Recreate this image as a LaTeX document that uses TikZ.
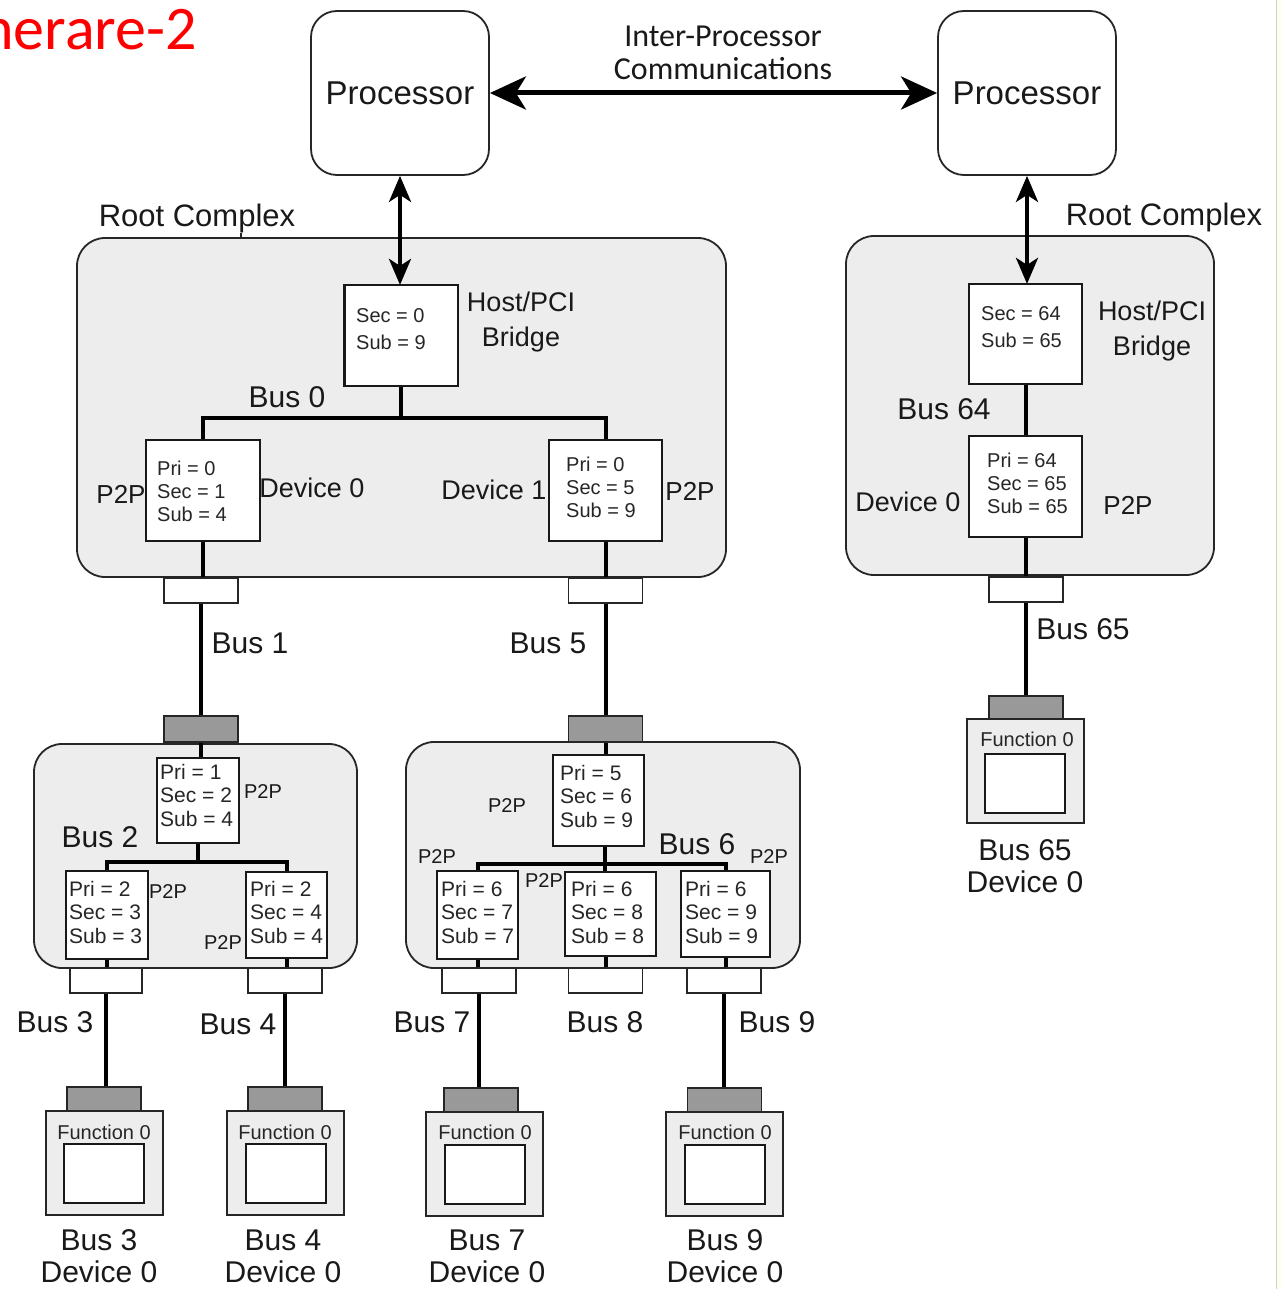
\documentclass[tikz,border=0pt]{standalone}
\usepackage{fontspec}
\setmainfont{Liberation Sans}
\newfontfamily\titlefont{Carlito}
\usetikzlibrary{arrows.meta}
\newcommand\fsz[2]{\fontsize{#1}{#2}\selectfont}

\begin{document}
\begin{tikzpicture}[x=1pt, y=-1pt,
  frame/.style={draw=black!85, line width=1.8pt},
  proc/.style={frame, rounded corners=26pt, fill=white, minimum width=178pt, minimum height=164pt,
    inner sep=0pt, text=black!90, font=\fsz{33}{38}},
  cplx/.style={frame, rounded corners=28pt, fill=black!7, inner sep=0pt},
  reg/.style={draw=black!90, line width=2.2pt, fill=white, inner sep=0pt},
  regtxt/.style={inner sep=0pt, align=left, anchor=west, text=black!85, font=\fsz{20}{23}},
  hbtxt/.style={regtxt, font=\fsz{20}{27}},
  regtxtb/.style={regtxt, font=\fsz{21}{23.5}},
  socket/.style={draw=black!85, line width=1.6pt, fill=white, minimum width=74pt, minimum height=25pt, inner sep=0pt},
  slot/.style={draw=black!85, line width=1.6pt, fill=black!40, minimum width=74pt, minimum height=25pt, inner sep=0pt},
  card/.style={draw=black!85, line width=2pt, fill=black!7, minimum width=117pt, minimum height=104pt, inner sep=0pt},
  cardin/.style={draw=black!90, line width=2pt, fill=white, minimum width=80pt, minimum height=59pt, inner sep=0pt},
  fn/.style={inner sep=0pt, text=black!85, font=\fsz{20}{22}},
  bus/.style={line width=4pt, draw=black},
  lbl/.style={inner sep=0pt, text=black!90, font=\fsz{28}{33}},
  buslbl/.style={inner sep=0pt, text=black!90, font=\fsz{30}{33}},
  small/.style={inner sep=0pt, text=black!90, font=\fsz{20}{22}},
  devlbl/.style={inner sep=0pt, align=center, text=black!90, font=\fsz{30}{32}},
  ipc/.style={{Stealth[length=36pt, width=33pt, inset=10pt]}-{Stealth[length=36pt, width=33pt, inset=10pt]}, line width=5pt},
  vlink/.style={{Stealth[length=26pt, width=22pt, inset=7pt]}-{Stealth[length=26pt, width=22pt, inset=7pt]}, line width=4pt},
]
\useasboundingbox (0,0) rectangle (1281,1289);
\fill[white] (0,0) rectangle (1281,1289);
\fill[yellow!8] (1276,0) rectangle (1281,1289);
\draw[black!18, line width=1pt] (1276.5,0) -- (1276.5,1289);

% heading
\node[inner sep=0pt, anchor=base east, text=red, font=\titlefont\fsz{62}{66}] (title) at (197,50) {nerare-2};

% processors
\node[proc] (cpu0) at (400,93) {Processor};
\node[proc] (cpu1) at (1027,93) {Processor};
\node[inner sep=0pt, align=center, text=black!90, font=\titlefont\fsz{32}{33}] (ipcl) at (723,53) {Inter-Processor\\Communications};

% root complexes and switches
\node[cplx, minimum width=649pt, minimum height=339pt] (rc0) at (401.5,407.5) {};
\node[cplx, minimum width=368pt, minimum height=339pt] (rc1) at (1030,405.5) {};
\node[cplx, minimum width=323pt, minimum height=224pt] (sw2) at (195.5,856) {};
\node[cplx, minimum width=394pt, minimum height=226pt] (sw6) at (603,855) {};

\node[lbl, font=\fsz{31}{34}] (rcl0) at (197,218) {Root Complex};
\node[lbl, font=\fsz{31}{34}] (rcl1) at (1164,217) {Root Complex};
\coordinate (tick) at (241,238);
\draw[frame] (tick |- rcl0.south) -- (tick);

% sockets (open) and slots (filled)
\node[socket] (s1) at (201,590.5) {};
\node[socket] (s5) at (605.5,590.5) {};
\node[socket] (s65) at (1026,589.5) {};
\node[socket, minimum width=72pt] (s3) at (106,980.5) {};
\node[socket] (s4) at (285,980.5) {};
\node[socket] (s7) at (479,980.5) {};
\node[socket] (s8) at (605.5,980.5) {};
\node[socket] (s9) at (724,980.5) {};

\node[slot, minimum height=26pt] (g2) at (201,729) {};
\node[slot, minimum height=26pt] (g6) at (605.5,729) {};
\node[slot, minimum height=26pt] (g65) at (1026,709) {};

% endpoint cards
\node[card] (c3) at (104,1162.5) {};
\node[card] (c4) at (285,1162.5) {};
\node[card] (c7) at (484.5,1163.5) {};
\node[card] (c9) at (724,1163.5) {};
\node[card] (c65) at (1025,770.5) {};
\node[slot, minimum height=24pt] (g3) at (104,1099) {};
\node[slot, minimum height=24pt] (g4) at (285,1099) {};
\node[slot, minimum height=24pt] (g7) at (481,1100) {};
\node[slot, minimum height=24pt] (g9) at (724.5,1100) {};
\node[cardin] (i3) at (104,1173.5) {};
\node[cardin] (i4) at (285.5,1173.5) {};
\node[cardin] (i7) at (484.5,1174) {};
\node[cardin] (i9) at (724.5,1174.5) {};
\node[cardin] (i65) at (1025,783.5) {};
\node[fn] (f3) at (104,1132) {Function 0};
\node[fn] (f4) at (285,1132) {Function 0};
\node[fn] (f7) at (485,1132) {Function 0};
\node[fn] (f9) at (725,1132) {Function 0};
\node[fn] (f65) at (1027,739) {Function 0};

% bridge register boxes
\node[reg, minimum width=111pt, minimum height=99pt] (hb0) at (401,335.5) {};
\node[reg, minimum width=112pt, minimum height=99pt] (p0) at (203,490.5) {};
\node[reg, minimum width=111pt, minimum height=99pt] (p1) at (605.5,490.5) {};
\node[reg, minimum width=111pt, minimum height=98pt] (hb1) at (1025.5,334) {};
\node[reg, minimum width=111pt, minimum height=99pt] (p64) at (1025.5,486.5) {};
\node[reg, minimum width=80pt, minimum height=83pt] (p2) at (198,800.5) {};
\node[reg, minimum width=80pt, minimum height=86pt] (p3) at (107,915) {};
\node[reg, minimum width=79pt, minimum height=84pt] (p4) at (286.5,915) {};
\node[reg, minimum width=89pt, minimum height=89pt] (p6) at (598.5,800.5) {};
\node[reg, minimum width=79pt, minimum height=86pt] (p7) at (477.5,915) {};
\node[reg, minimum width=89pt, minimum height=82pt] (p8) at (610.5,914) {};
\node[reg, minimum width=87pt, minimum height=84pt] (p9) at (725.5,914) {};

% links between processors and host bridges
\draw[ipc] (cpu0.east) -- (cpu1.west);
\draw[vlink] (cpu0.south) -- (cpu0.south |- hb0.north);
\draw[vlink] (cpu1.south) -- (cpu1.south |- hb1.north);

% bus 0
\coordinate (b0) at (401,418);
\draw[bus] (hb0.south) -- (b0);
\draw[bus] (p0.north) -- (p0.north |- b0) -- (p1.north |- b0) -- (p1.north);
% bus 1 and bus 5
\draw[bus] (p0.south) -- (p0.south |- s1.north);
\draw[bus] (s1.south) -- (g2.north);
\draw[bus] (p1.south) -- (p1.south |- s5.north);
\draw[bus] (s5.south) -- (g6.north);
% bus 64 and bus 65
\draw[bus] (hb1.south) -- (p64.north);
\draw[bus] (p64.south) -- (p64.south |- s65.north);
\draw[bus] (s65.south) -- (g65.north);
% bus 2
\coordinate (b2) at (198,862);
\draw[bus] (g2.south) -- (g2.south |- p2.north);
\draw[bus] (p2.south) -- (b2);
\draw[bus] (p3.north) -- (p3.north |- b2) -- (p4.north |- b2) -- (p4.north);
% bus 3 and bus 4
\draw[bus] (p3.south) -- (p3.south |- s3.north);
\draw[bus] (s3.south) -- (s3.south |- g3.north);
\draw[bus] (p4.south) -- (p4.south |- s4.north);
\draw[bus] (s4.south) -- (g4.north);
% bus 6
\coordinate (b6) at (605,864);
\draw[bus] (g6.south) -- (g6.south |- p6.north);
\draw[bus] (b6 |- p6.south) -- (b6);
\draw[bus] (p7.north) -- (p7.north |- b6) -- (p9.north |- b6) -- (p9.north);
\draw[bus] (b6) -- (b6 |- p8.north);
% bus 7, 8 and 9
\draw[bus] (p7.south) -- (p7.south |- s7.north);
\draw[bus] (s7.south) -- (s7.south |- g7.north);
\draw[bus] (s8.north) -- (s8.north |- p8.south);
\draw[bus] (p9.south) -- (p9.south |- s9.north);
\draw[bus] (s9.south) -- (s9.south |- g9.north);

% redraw register boxes over the bus ends
\foreach \r in {hb0,p0,p1,hb1,p64,p2,p3,p4,p6,p7,p8,p9}{
  \draw[draw=black!90, line width=2.2pt, fill=white] (\r.north west) rectangle (\r.south east);
}

% register contents
\node[hbtxt] (t-hb0) at (356,329.5) {Sec = 0\\Sub = 9};
\node[regtxt] (t-p0) at (157,491) {Pri = 0\\Sec = 1\\Sub = 4};
\node[regtxt] (t-p1) at (566,487) {Pri = 0\\Sec = 5\\Sub = 9};
\node[hbtxt] (t-hb1) at (981,327.5) {Sec = 64\\Sub = 65};
\node[regtxt] (t-p64) at (987,483) {Pri = 64\\Sec = 65\\Sub = 65};
\node[regtxtb] (t-p2) at (160,795) {Pri = 1\\Sec = 2\\Sub = 4};
\node[regtxtb] (t-p3) at (69,912) {Pri = 2\\Sec = 3\\Sub = 3};
\node[regtxtb] (t-p4) at (250,912) {Pri = 2\\Sec = 4\\Sub = 4};
\node[regtxtb] (t-p6) at (560,796) {Pri = 5\\Sec = 6\\Sub = 9};
\node[regtxtb] (t-p7) at (441,912) {Pri = 6\\Sec = 7\\Sub = 7};
\node[regtxtb] (t-p8) at (571,912) {Pri = 6\\Sec = 8\\Sub = 8};
\node[regtxtb] (t-p9) at (685,912) {Pri = 6\\Sec = 9\\Sub = 9};

% labels inside the root complexes
\node[lbl, align=center, font=\fsz{27}{35}] (hbl0) at (521,322) {Host/PCI\\Bridge};
\node[lbl, align=center, font=\fsz{27}{35}] (hbl1) at (1152,331) {Host/PCI\\Bridge};
\node[buslbl] (bl0) at (287,397) {Bus 0};
\node[lbl, font=\fsz{26}{30}] (pl0) at (121,494) {P2P};
\node[lbl, font=\fsz{27}{30}] (dl0) at (312,488) {Device 0};
\node[lbl, font=\fsz{27}{30}] (dl1) at (494,490) {Device 1};
\node[lbl, font=\fsz{26}{30}] (pl1) at (690,491) {P2P};
\node[buslbl] (bl64) at (944,409) {Bus 64};
\node[lbl, font=\fsz{27}{30}] (dl64) at (908,502) {Device 0};
\node[lbl, font=\fsz{26}{30}] (pl64) at (1128,505) {P2P};

% bus labels
\node[buslbl] (bl1) at (250,643) {Bus 1};
\node[buslbl] (bl5) at (548,643) {Bus 5};
\node[buslbl] (bl65) at (1083,629) {Bus 65};
\node[buslbl] (bl2) at (100,837) {Bus 2};
\node[buslbl] (bl6) at (697,844) {Bus 6};
\node[buslbl] (bl3) at (55,1022) {Bus 3};
\node[buslbl] (bl4) at (238,1024) {Bus 4};
\node[buslbl] (bl7) at (432,1022) {Bus 7};
\node[buslbl] (bl8) at (605,1022) {Bus 8};
\node[buslbl] (bl9) at (777,1022) {Bus 9};

% P2P labels inside the switches
\node[small] (q2) at (263,792) {P2P};
\node[small] (q3) at (168,892) {P2P};
\node[small] (q4) at (223,943) {P2P};
\node[small] (q6) at (507,806) {P2P};
\node[small] (q7) at (437,857) {P2P};
\node[small] (q8) at (544,881) {P2P};
\node[small] (q9) at (769,857) {P2P};

% endpoint captions
\node[devlbl] (d3) at (99,1256) {Bus 3\\Device 0};
\node[devlbl] (d4) at (283,1256) {Bus 4\\Device 0};
\node[devlbl] (d7) at (487,1256) {Bus 7\\Device 0};
\node[devlbl] (d9) at (725,1256) {Bus 9\\Device 0};
\node[devlbl] (d65) at (1025,866) {Bus 65\\Device 0};
\end{tikzpicture}
\end{document}
